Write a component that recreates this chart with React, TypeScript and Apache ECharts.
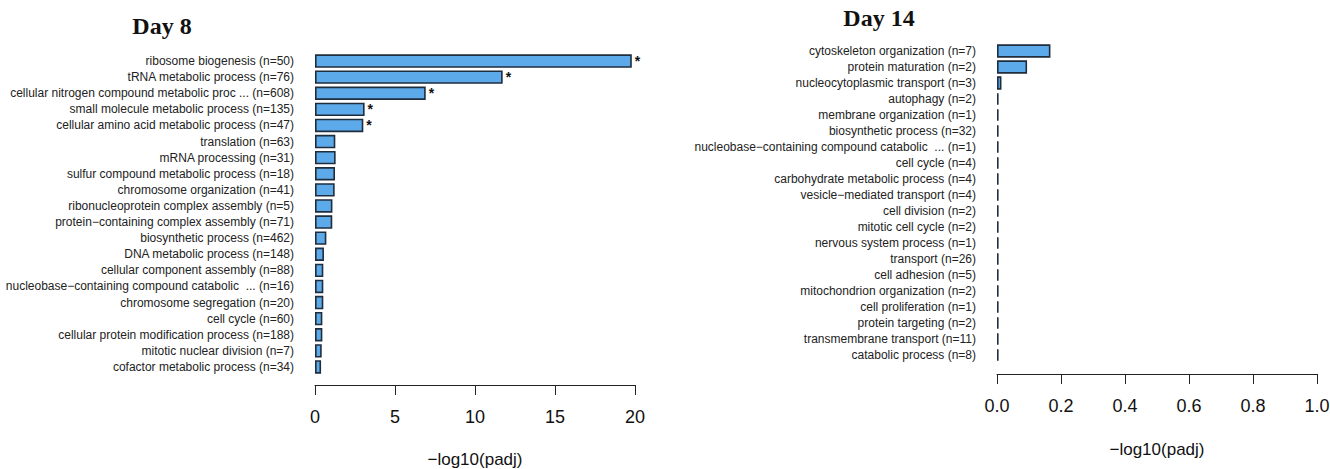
import React, { useEffect, useRef } from "react";
import * as echarts from "echarts";

const categoriesDay8 = [
  "ribosome biogenesis (n=50)",
  "tRNA metabolic process (n=76)",
  "cellular nitrogen compound metabolic proc ... (n=608)",
  "small molecule metabolic process (n=135)",
  "cellular amino acid metabolic process (n=47)",
  "translation (n=63)",
  "mRNA processing (n=31)",
  "sulfur compound metabolic process (n=18)",
  "chromosome organization (n=41)",
  "ribonucleoprotein complex assembly (n=5)",
  "protein\u2212containing complex assembly (n=71)",
  "biosynthetic process (n=462)",
  "DNA metabolic process (n=148)",
  "cellular component assembly (n=88)",
  "nucleobase\u2212containing compound catabolic  ... (n=16)",
  "chromosome segregation (n=20)",
  "cell cycle (n=60)",
  "cellular protein modification process (n=188)",
  "mitotic nuclear division (n=7)",
  "cofactor metabolic process (n=34)",
];
const valuesDay8 = [
  19.8, 11.73, 6.92, 3.1, 3.02, 1.27, 1.29, 1.25, 1.23, 1.09, 1.08, 0.71, 0.56,
  0.52, 0.52, 0.52, 0.46, 0.46, 0.42, 0.38,
];
const significantDay8 = [
  true, true, true, true, true, false, false, false, false, false, false,
  false, false, false, false, false, false, false, false, false,
];

const categoriesDay14 = [
  "cytoskeleton organization (n=7)",
  "protein maturation (n=2)",
  "nucleocytoplasmic transport (n=3)",
  "autophagy (n=2)",
  "membrane organization (n=1)",
  "biosynthetic process (n=32)",
  "nucleobase\u2212containing compound catabolic  ... (n=1)",
  "cell cycle (n=4)",
  "carbohydrate metabolic process (n=4)",
  "vesicle\u2212mediated transport (n=4)",
  "cell division (n=2)",
  "mitotic cell cycle (n=2)",
  "nervous system process (n=1)",
  "transport (n=26)",
  "cell adhesion (n=5)",
  "mitochondrion organization (n=2)",
  "cell proliferation (n=1)",
  "protein targeting (n=2)",
  "transmembrane transport (n=11)",
  "catabolic process (n=8)",
];
const valuesDay14 = [
  0.167, 0.094, 0.014, 0.005, 0.005, 0.005, 0.005, 0.005, 0.005, 0.005, 0.005,
  0.005, 0.005, 0.005, 0.005, 0.005, 0.005, 0.005, 0.005, 0.005,
];

const xTitle = "\u2212log10(padj)";
const titles = ["Day 8", "Day 14"];

const BAR_FILL = "#5DAAEB";
const BAR_BORDER = "#1f2d3d";
const SANS = "Liberation Sans, Arial, Helvetica, sans-serif";

export default function App() {
  const ref = useRef<HTMLDivElement>(null);
  useEffect(() => {
    if (!ref.current) return;
    const chart = echarts.init(ref.current, undefined, { renderer: "svg" });
    const xAxisCommon = (
      min: number,
      max: number,
      interval: number,
      offset: number,
      digits: number,
      nameGap: number
    ) => ({
      type: "value",
      min,
      max,
      interval,
      offset,
      name: xTitle,
      nameLocation: "middle",
      nameGap,
      nameTextStyle: { fontFamily: SANS, fontSize: 17, color: "#111" },
      axisLine: { show: true, lineStyle: { color: "#222", width: 1 } },
      axisTick: { show: true, inside: false, length: 10, lineStyle: { color: "#222", width: 1 } },
      axisLabel: {
        margin: 23,
        fontFamily: SANS,
        fontSize: 18,
        color: "#111",
        formatter: (v: number) => v.toFixed(digits),
      },
      splitLine: { show: false },
    });
    const yAxisCommon = (cats: string[]) => ({
      type: "category",
      data: cats,
      inverse: true,
      axisLine: { show: false },
      axisTick: { show: false },
      axisLabel: { margin: 21, fontFamily: SANS, fontSize: 12, color: "#222", interval: 0 },
    });
    chart.setOption({
      animation: false,
      backgroundColor: "#ffffff",
      title: [
        {
          text: titles[0],
          left: 157,
          top: 9,
          textAlign: "center",
          textStyle: { fontFamily: "Liberation Serif, Times New Roman, serif", fontWeight: "bold", fontSize: 24, color: "#111" },
        },
        {
          text: titles[1],
          left: 874,
          top: 1,
          textAlign: "center",
          textStyle: { fontFamily: "Liberation Serif, Times New Roman, serif", fontWeight: "bold", fontSize: 24, color: "#111" },
        },
      ],
      grid: [
        { left: 315, top: 53, width: 320, height: 322, containLabel: false, outerBoundsMode: "none" },
        { left: 997, top: 43, width: 320, height: 320, containLabel: false, outerBoundsMode: "none" },
      ],
      xAxis: [
        { ...xAxisCommon(0, 20, 5, 10, 0, 66), gridIndex: 0 },
        { ...xAxisCommon(0, 1, 0.2, 11, 1, 67), gridIndex: 1 },
      ],
      yAxis: [
        { ...yAxisCommon(categoriesDay8), gridIndex: 0 },
        { ...yAxisCommon(categoriesDay14), gridIndex: 1 },
      ],
      series: [
        {
          type: "bar",
          xAxisIndex: 0,
          yAxisIndex: 0,
          data: valuesDay8,
          barCategoryGap: "17%",
          itemStyle: { color: BAR_FILL, borderColor: BAR_BORDER, borderWidth: 1.6 },
          label: {
            show: true,
            position: "right",
            distance: 3,
            fontFamily: SANS,
            fontSize: 14,
            fontWeight: "bold",
            color: "#111",
            formatter: (p: any) => (significantDay8[p.dataIndex] ? "*" : ""),
          },
        },
        {
          type: "bar",
          xAxisIndex: 1,
          yAxisIndex: 1,
          data: valuesDay14,
          barCategoryGap: "17%",
          itemStyle: { color: BAR_FILL, borderColor: BAR_BORDER, borderWidth: 1.6 },
        },
      ],
    });
    return () => chart.dispose();
  }, []);
  return (
    <div
      ref={ref}
      style={{ position: "absolute", left: 0, top: 0, width: 1330, height: 469 }}
    />
  );
}
